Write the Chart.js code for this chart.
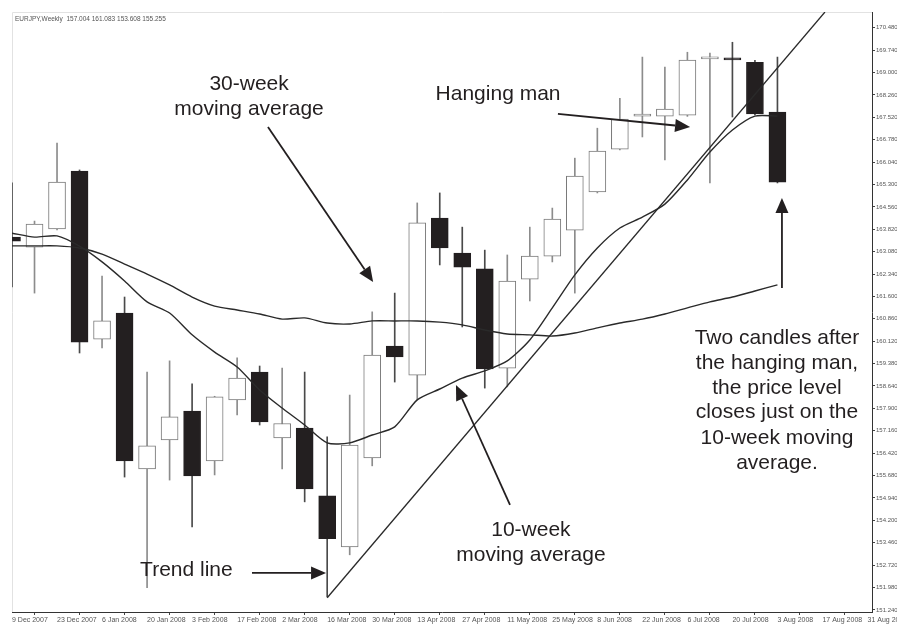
<!DOCTYPE html>
<html>
<head>
<meta charset="utf-8">
<script src="https://cdn.jsdelivr.net/npm/chart.js@4/dist/chart.umd.min.js"></script>
<style>
html,body{margin:0;padding:0;background:#ffffff;}
canvas{display:block;}
</style>
</head>
<body>
<canvas id="c" width="897" height="625"></canvas>
<script>
// ---------- DATA (EUR/JPY weekly) ----------
const dateLabels = ['9 Dec 2007','23 Dec 2007','6 Jan 2008','20 Jan 2008','3 Feb 2008','17 Feb 2008',
  '2 Mar 2008','16 Mar 2008','30 Mar 2008','13 Apr 2008','27 Apr 2008','11 May 2008','25 May 2008',
  '8 Jun 2008','22 Jun 2008','6 Jul 2008','20 Jul 2008','3 Aug 2008','17 Aug 2008','31 Aug 2008'];

const priceTicks = [151.240,151.980,152.720,153.460,154.200,154.940,155.680,156.420,157.160,157.900,
  158.640,159.380,160.120,160.860,161.600,162.340,163.080,163.820,164.560,165.300,166.040,166.780,
  167.520,168.260,169.000,169.740,170.480];

const weekIndex = [0,1,2,3,4,5,6,7,8,9,10,11,12,13,14,15,16,17,18,19,20,21,22,23,24,25,26,27,28,29,30,31,32,33,34];

const opens  = [163.56,163.23,163.83,165.74,160.19,161.05,155.90,156.86,157.81,156.16,158.18,159.10,156.92,157.25,155.01,153.32,156.26,159.96,159.00,164.19,163.03,162.51,159.23,162.17,162.93,163.79,165.05,166.47,167.56,167.56,167.59,169.45,169.46,169.34,167.69];
const highs  = [165.35,164.09,166.67,165.78,162.27,161.58,159.10,159.47,158.71,158.30,159.57,159.30,159.23,159.10,156.96,158.34,161.09,161.71,164.69,165.02,163.89,163.13,162.97,163.89,164.52,166.17,167.16,168.15,169.51,169.18,169.67,169.64,170.00,169.40,169.51];
const lows   = [161.91,161.71,163.80,159.73,159.90,155.63,151.97,155.53,153.98,155.70,157.68,157.35,155.90,154.81,151.67,153.06,156.00,158.77,158.18,162.64,160.59,158.57,158.61,161.45,162.74,161.71,165.02,166.44,166.87,166.11,167.55,165.35,167.53,167.60,165.35];
const closes = [163.43,163.99,165.38,160.09,160.79,156.16,156.66,157.62,155.67,158.28,158.90,157.45,157.40,155.24,153.59,156.69,159.66,159.60,164.03,163.20,162.57,159.20,162.11,162.93,164.16,165.58,166.40,167.46,167.63,167.79,169.41,169.50,169.42,167.63,165.38];

const ma10 = [163.69,163.56,163.60,163.26,162.74,162.11,161.42,161.05,160.33,159.76,159.27,158.51,157.91,157.35,156.76,156.76,157.02,157.29,158.18,158.54,158.90,159.14,159.47,160.16,161.22,162.31,163.20,163.86,164.22,164.65,165.45,166.37,167.10,167.56,167.56];
const ma30 = [163.27,163.27,163.27,163.20,163.00,162.67,162.34,161.98,161.58,161.28,161.15,161.02,160.85,160.89,160.72,160.69,160.79,160.79,160.79,160.75,160.66,160.49,160.36,160.33,160.29,160.39,160.56,160.72,160.85,161.02,161.22,161.42,161.58,161.78,161.98];

const trendX = [14, 36.11];
const trendY = [151.64, 171.00];

const headerText = 'EURJPY,Weekly  157.004 161.083 153.608 155.255';

// ---------- ANNOTATIONS (positions in data units: week index, price) ----------
const notes = [
  {lines:['30-week','moving average'], x:10.53, y:[168.62,167.79], align:'center'},
  {lines:['Hanging man'], x:21.59, y:[168.29], align:'center'},
  {lines:['Two candles after','the hanging man,','the price level','closes just on the','10-week moving','average.'],
   x:33.98, y:[160.22,159.40,158.58,157.76,156.92,156.09], align:'center'},
  {lines:['10-week','moving average'], x:23.05, y:[153.88,153.05], align:'center'},
  {lines:['Trend line'], x:5.69, y:[152.56], align:'left'}
];
const arrows = [
  {from:[11.37,167.20], to:[16.04,162.08]},
  {from:[24.25,167.63], to:[30.12,167.20]},
  {from:[34.20,161.88], to:[34.20,164.85]},
  {from:[22.12,154.71], to:[19.72,158.67]},
  {from:[10.66,152.46], to:[13.95,152.46]}
];

// ---------- STYLE ----------
const INK = '#231f20';
const bull = opens.map((o,i) => closes[i] >= o);
const bodyFill = bull.map(b => b ? '#ffffff' : INK);
const bodyEdge = bull.map(b => b ? '#7a7a7a' : INK);
const wickCol = bull.map(b => b ? '#8c8c8c' : '#4a4a4a');

const wickData = weekIndex.map(i => ({x:i, y:[lows[i], highs[i]]}));
const bodyData = weekIndex.map(i => ({x:i, y:[Math.min(opens[i],closes[i]), Math.max(opens[i],closes[i])]}));
const ma10Data = weekIndex.map(i => ({x:i, y:ma10[i]}));
const ma30Data = weekIndex.map(i => ({x:i, y:ma30[i]}));
const trendData = trendX.map((x,i) => ({x:x, y:trendY[i]}));

const annotPlugin = {
  id:'annot',
  beforeDatasetsDraw(chart){
    const {ctx, chartArea:a} = chart;
    ctx.save();
    ctx.strokeStyle = '#e2e2e2';
    ctx.lineWidth = 1;
    ctx.beginPath();
    ctx.moveTo(a.left+0.5, a.bottom);
    ctx.lineTo(a.left+0.5, a.top+0.5);
    ctx.lineTo(a.right, a.top+0.5);
    ctx.stroke();
    ctx.fillStyle = '#555';
    ctx.font = '6.5px "Liberation Sans", Arial, sans-serif';
    ctx.textBaseline = 'middle';
    ctx.textAlign = 'left';
    ctx.fillText(headerText, a.left + 3, a.top + 7);
    ctx.restore();
  },
  afterDatasetsDraw(chart){
    const {ctx, scales:{x, y}} = chart;
    ctx.save();
    ctx.fillStyle = INK;
    ctx.font = '21px "Liberation Sans", Arial, sans-serif';
    ctx.textBaseline = 'middle';
    notes.forEach(n => {
      ctx.textAlign = n.align;
      n.lines.forEach((t, k) => ctx.fillText(t, x.getPixelForValue(n.x), y.getPixelForValue(n.y[k])));
    });
    ctx.strokeStyle = INK;
    ctx.lineWidth = 1.8;
    arrows.forEach(ar => {
      const x1 = x.getPixelForValue(ar.from[0]), y1 = y.getPixelForValue(ar.from[1]);
      const x2 = x.getPixelForValue(ar.to[0]), y2 = y.getPixelForValue(ar.to[1]);
      const ang = Math.atan2(y2 - y1, x2 - x1);
      const L = 15, W = 6.5;
      const bx = x2 - L*Math.cos(ang), by = y2 - L*Math.sin(ang);
      ctx.beginPath();
      ctx.moveTo(x1, y1);
      ctx.lineTo(bx, by);
      ctx.stroke();
      ctx.beginPath();
      ctx.moveTo(x2, y2);
      ctx.lineTo(bx + W*Math.sin(ang), by - W*Math.cos(ang));
      ctx.lineTo(bx - W*Math.sin(ang), by + W*Math.cos(ang));
      ctx.closePath();
      ctx.fill();
    });
    ctx.restore();
  }
};

new Chart(document.getElementById('c'), {
  type:'bar',
  data:{
    datasets:[
      {type:'line', data:ma10Data, borderColor:'#2a2a2a', borderWidth:1.4, pointRadius:0, tension:0.25, order:0},
      {type:'line', data:ma30Data, borderColor:'#2a2a2a', borderWidth:1.4, pointRadius:0, tension:0.25, order:0},
      {type:'line', data:trendData, borderColor:'#2a2a2a', borderWidth:1.3, pointRadius:0, tension:0, order:0},
      {type:'bar', data:bodyData, backgroundColor:bodyFill, borderColor:bodyEdge, borderWidth:1,
       borderSkipped:false, barThickness:17, grouped:false, minBarLength:2, order:1},
      {type:'bar', data:wickData, backgroundColor:wickCol, borderWidth:0,
       barThickness:1, grouped:false, order:2}
    ]
  },
  options:{
    responsive:false,
    animation:false,
    devicePixelRatio:1,
    layout:{padding:{left:12, top:12, right:0, bottom:0}},
    plugins:{legend:{display:false}, tooltip:{enabled:false}},
    scales:{
      x:{
        type:'linear', min:0, max:38.2, offset:false,
        grid:{display:true, drawOnChartArea:false, drawTicks:true, tickLength:3, color:'#444', lineWidth:1},
        border:{display:true, color:'#333', width:1},
        ticks:{autoSkip:false, maxRotation:0, minRotation:0, align:'start', padding:1, color:'#555',
               font:{size:7, family:'"Liberation Sans", Arial, sans-serif'},
               callback:(v, i) => dateLabels[i]},
        afterBuildTicks:s => { s.ticks = dateLabels.map((_, i) => ({value:i*2})); },
        afterFit:s => { s.height = 13; s.paddingLeft = 0; s.paddingRight = 0; }
      },
      y:{
        type:'linear', position:'right', min:151.17, max:171.0, beginAtZero:false,
        grid:{display:true, drawOnChartArea:false, drawTicks:true, tickLength:3, color:'#444', lineWidth:1},
        border:{display:true, color:'#333', width:1},
        ticks:{padding:1, color:'#555', font:{size:6, family:'"Liberation Sans", Arial, sans-serif'},
               callback:v => Number(v).toFixed(3)},
        afterBuildTicks:s => { s.ticks = priceTicks.map(v => ({value:v})); },
        afterFit:s => { s.width = 25; s.paddingTop = 0; s.paddingBottom = 0; }
      }
    }
  },
  plugins:[annotPlugin]
});
</script>
</body>
</html>
